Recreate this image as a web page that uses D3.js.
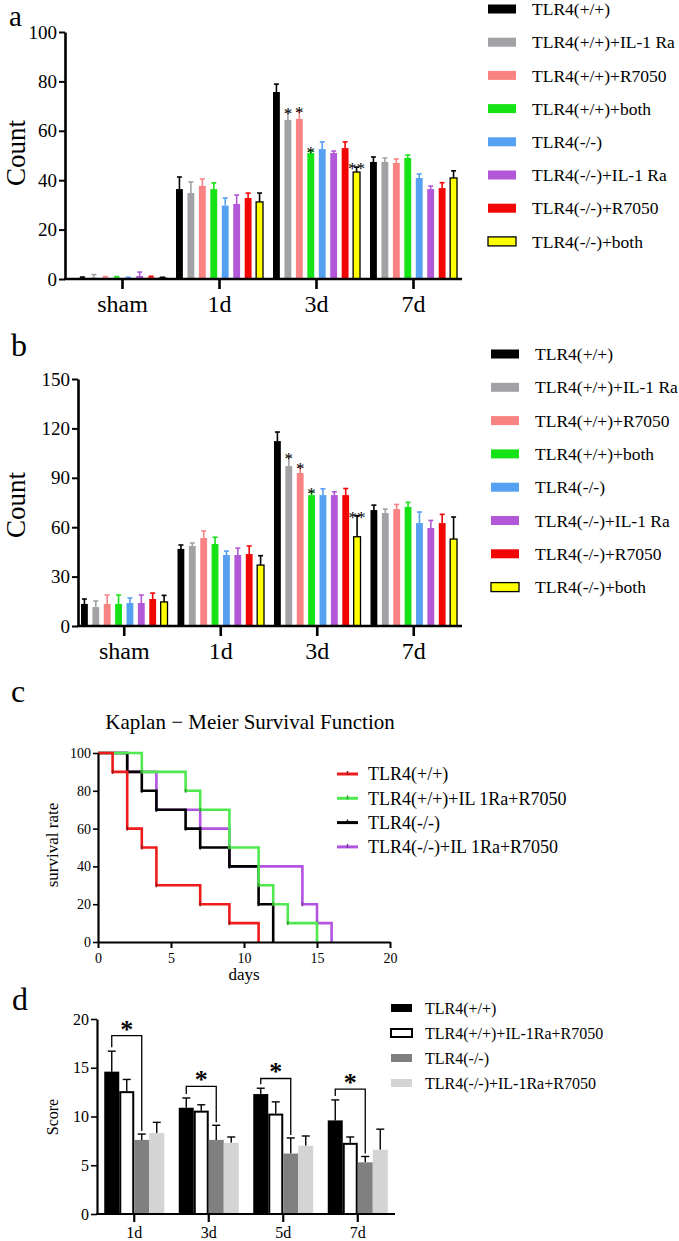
<!DOCTYPE html>
<html><head><meta charset="utf-8">
<script src="https://cdn.jsdelivr.net/npm/d3@7"></script>
<style>
body{margin:0;background:#fff}
svg{display:block}
svg text{font-family:"Liberation Serif","Tinos","Times New Roman","DejaVu Serif",serif !important;fill:#000}
</style>
</head><body>
<svg id="chart" width="679" height="1241"></svg>
<script>
// ---------- data ----------
const seriesAB = ["TLR4(+/+)","TLR4(+/+)+IL-1 Ra","TLR4(+/+)+R7050","TLR4(+/+)+both","TLR4(-/-)","TLR4(-/-)+IL-1 Ra","TLR4(-/-)+R7050","TLR4(-/-)+both"];
const colorsAB = ["#000000","#a2a2a6","#f98282","#16e316","#56a0f2","#b157d8","#f20505","#ffff00"];
const categoriesAB = ["sham","1d","3d","7d"];

// panel a: rows = categories, columns = series
const aMeans = [
  [0.5,0.6,0.6,0.6,0.4,1.2,0.7,0.4],
  [36.4,34.8,37.7,36.4,29.7,30.4,32.8,31.2],
  [75.7,64.4,64.8,51.0,52.6,51.0,53.0,43.3],
  [47.4,47.4,47.0,49.0,40.9,36.4,36.8,40.9]
];
const aErrs = [
  [0.3,1.2,0.4,0.4,0.3,1.6,0.4,0.3],
  [4.9,4.5,2.8,2.5,3.1,3.6,2.0,3.6],
  [3.2,3.1,3.2,0.8,2.9,0.8,2.5,2.0],
  [2.0,1.6,1.6,1.2,1.6,1.2,2.2,2.9]
];
const aStars = [
  ["","","","","","","",""],
  ["","","","","","","",""],
  ["","*","*","*","","","","**"],
  ["","","","","","","",""]
];
const aTicks = [0,20,40,60,80,100];

// panel b
const bMeans = [
  [13.4,11.5,13.4,13.4,14.0,14.0,16.4,14.6],
  [46.8,48.6,53.4,49.8,43.1,43.1,43.7,37.0],
  [112.3,97.1,92.9,79.5,79.5,79.5,79.5,54.2],
  [70.4,68.6,71.0,72.3,62.5,59.5,62.5,52.8]
];
const bErrs = [
  [3.0,3.7,5.4,5.4,3.0,4.8,3.6,4.0],
  [2.4,1.8,4.3,4.1,2.4,4.2,4.9,5.7],
  [5.5,5.5,3.6,1.8,3.8,2.0,4.0,12.8],
  [3.0,2.4,2.8,2.8,6.7,4.6,5.3,13.4]
];
const bStars = [
  ["","","","","","","",""],
  ["","","","","","","",""],
  ["","*","*","*","","","","**"],
  ["","","","","","","",""]
];
const bTicks = [0,30,60,90,120,150];

// panel c: Kaplan-Meier
const kmSeries = ["TLR4(+/+)","TLR4(+/+)+IL 1Ra+R7050","TLR4(-/-)","TLR4(-/-)+IL 1Ra+R7050"];
const kmColors = ["#ee1c1c","#4fe84f","#000000","#b253e2"];
const kmRedTimes = [0,1,2,3,4,7,9,11];
const kmRedRates = [100,90,60,50,30,20,10,0];
const kmGreenTimes = [0,3,6,7,9,11,12,13,15];
const kmGreenRates = [100,90,80,70,50,30,20,10,0];
const kmBlackTimes = [0,2,3,4,6,7,9,11,12];
const kmBlackRates = [100,90,80,70,60,50,40,20,0];
const kmPurpleTimes = [0,2,4,7,9,14,15,16];
const kmPurpleRates = [100,90,70,60,40,20,10,0];
const kmXTicks = [0,5,10,15,20];
const kmYTicks = [0,20,40,60,80,100];

// panel d
const seriesD = ["TLR4(+/+)","TLR4(+/+)+IL-1Ra+R7050","TLR4(-/-)","TLR4(-/-)+IL-1Ra+R7050"];
const colorsD = ["#000000","#ffffff","#808080","#d4d4d4"];
const categoriesD = ["1d","3d","5d","7d"];
const dMeans = [
  [14.6,12.6,7.6,8.3],
  [10.9,10.6,7.6,7.3],
  [12.3,10.3,6.2,7.0],
  [9.6,7.3,5.3,6.6]
];
const dErrs = [
  [2.1,1.2,0.6,1.1],
  [1.0,0.6,1.5,0.6],
  [0.6,1.2,1.6,1.0],
  [2.1,0.6,0.6,2.1]
];
const dBracket = [18.3,13.1,13.9,12.8];
const dTicks = [0,5,10,15,20];

// ---------- drawing ----------
const svg = d3.select("#chart");

function letter(t, x, y, size){
  svg.append("text").attr("x",x).attr("y",y).attr("font-size",size||32).text(t);
}

function barPanel(cfg){
  const g = svg.append("g");
  const x0 = d3.scaleBand().domain(categoriesAB).range(cfg.xRange);
  const x1 = d3.scaleBand().domain(seriesAB).range([5, x0.bandwidth()-5]).paddingInner(0.4);
  const y = d3.scaleLinear().domain([0, d3.max(cfg.ticks)]).range(cfg.yRange);
  const base = y(0);
  const rows = [];
  categoriesAB.forEach((c,ci)=>seriesAB.forEach((s,si)=>rows.push({
    c, s, si, v: cfg.means[ci][si], e: cfg.errs[ci][si], star: cfg.stars[ci][si]
  })));
  const bw = x1.bandwidth();
  const eb = g.append("g").selectAll("g").data(rows).join("g");
  eb.append("line")
    .attr("x1", d=>x0(d.c)+x1(d.s)+bw/2).attr("x2", d=>x0(d.c)+x1(d.s)+bw/2)
    .attr("y1", d=>y(d.v)).attr("y2", d=>y(d.v+d.e))
    .attr("stroke", d=>d.si===7?"#000":colorsAB[d.si]).attr("stroke-width",1.6);
  eb.append("line")
    .attr("x1", d=>x0(d.c)+x1(d.s)+bw/2-2.5).attr("x2", d=>x0(d.c)+x1(d.s)+bw/2+2.5)
    .attr("y1", d=>y(d.v+d.e)).attr("y2", d=>y(d.v+d.e))
    .attr("stroke", d=>d.si===7?"#000":colorsAB[d.si]).attr("stroke-width",1.6);
  g.append("g").selectAll("rect").data(rows).join("rect")
    .attr("x", d=>x0(d.c)+x1(d.s)).attr("width", bw)
    .attr("y", d=>y(d.v)).attr("height", d=>base-y(d.v))
    .attr("fill", d=>colorsAB[d.si])
    .attr("stroke", d=>d.si===7?"#000":"none").attr("stroke-width",1.3);
  g.append("g").selectAll("text").data(rows.filter(d=>d.star)).join("text")
    .attr("x", d=>x0(d.c)+x1(d.s)+bw/2).attr("y", d=>y(d.v+d.e)+7)
    .attr("text-anchor","middle").attr("font-size",17).text(d=>d.star);
  const ya = g.append("g").attr("transform",`translate(${cfg.axisX},0)`)
    .call(d3.axisLeft(y).tickValues(cfg.ticks).tickSize(6).tickSizeOuter(0).tickPadding(2));
  ya.select(".domain").attr("stroke-width",2.6);
  ya.selectAll(".tick line").attr("stroke-width",2);
  ya.selectAll("text").attr("font-size",19);
  const xa = g.append("g").attr("transform",`translate(0,${base})`)
    .call(d3.axisBottom(x0).tickSize(10).tickSizeOuter(0));
  xa.select(".domain").remove();
  xa.append("line").attr("x1",cfg.axisX-1).attr("x2",cfg.xRange[1]).attr("stroke","#000").attr("stroke-width",2.6);
  xa.selectAll(".tick line").attr("stroke-width",2.6);
  xa.selectAll("text").attr("font-size",24).attr("y",33).attr("dy",null);
  g.append("text").attr("transform",`translate(${cfg.labelX},${cfg.labelY}) rotate(-90)`)
    .attr("text-anchor","middle").attr("font-size",27).text("Count");
  const lg = g.append("g").selectAll("g").data(seriesAB).join("g")
    .attr("transform",(d,i)=>`translate(${cfg.legendX},${cfg.legendY0+i*cfg.legendStep})`);
  lg.append("rect").attr("x",0).attr("y",-4.5).attr("width",28).attr("height",9)
    .attr("fill",(d,i)=>colorsAB[i]).attr("stroke",(d,i)=>i===7?"#000":"none").attr("stroke-width",1.3);
  lg.append("text").attr("x",44).attr("y",0).attr("dy","0.35em").attr("font-size",17.5).text(d=>d);
}

letter("a", 9, 26, 29);
barPanel({means:aMeans, errs:aErrs, stars:aStars, ticks:aTicks,
  xRange:[74,462], yRange:[279,32], axisX:65, labelX:25, labelY:153,
  legendX:488, legendY0:9, legendStep:33.2});

letter("b", 11, 356);
barPanel({means:bMeans, errs:bErrs, stars:bStars, ticks:bTicks,
  xRange:[76,462], yRange:[626,379], axisX:78, labelX:25, labelY:505,
  legendX:491, legendY0:354, legendStep:33.3});

letter("c", 11, 702);
(function(){
  const g = svg.append("g");
  const x = d3.scaleLinear().domain([0,20]).range([98,390]);
  const y = d3.scaleLinear().domain([0,100]).range([942,753]);
  g.append("text").attr("x",250).attr("y",729).attr("text-anchor","middle").attr("font-size",21)
    .text("Kaplan \u2212 Meier Survival Function");
  const curves = [
    {t:kmPurpleTimes, r:kmPurpleRates, c:kmColors[3]},
    {t:kmBlackTimes, r:kmBlackRates, c:kmColors[2]},
    {t:kmGreenTimes, r:kmGreenRates, c:kmColors[1]},
    {t:kmRedTimes, r:kmRedRates, c:kmColors[0]}
  ];
  const line = d3.line().x(d=>x(d[0])).y(d=>y(d[1])).curve(d3.curveStepAfter);
  curves.forEach(cv=>{
    const pts = cv.t.map((t,i)=>[t,cv.r[i]]);
    g.append("path").attr("d",line(pts)).attr("fill","none").attr("stroke",cv.c).attr("stroke-width",2.6);
    g.append("g").selectAll("line").data(pts.slice(1,-1)).join("line")
      .attr("x1",d=>x(d[0])).attr("x2",d=>x(d[0])).attr("y1",d=>y(d[1])-2).attr("y2",d=>y(d[1])+2)
      .attr("stroke",d3.color(cv.c).darker(1.2)).attr("stroke-width",1.5);
  });
  const ya = g.append("g").attr("transform","translate(98,0)")
    .call(d3.axisLeft(y).tickValues(kmYTicks).tickSize(5).tickSizeOuter(0).tickPadding(2));
  ya.select(".domain").attr("stroke-width",2.2);
  ya.selectAll(".tick line").attr("stroke-width",1.6);
  ya.selectAll("text").attr("font-size",14);
  const xa = g.append("g").attr("transform","translate(0,942)")
    .call(d3.axisBottom(x).tickValues(kmXTicks).tickSize(6).tickSizeOuter(0));
  xa.select(".domain").attr("stroke-width",2.2);
  xa.selectAll(".tick line").attr("stroke-width",2);
  xa.selectAll("text").attr("font-size",14).attr("y",21).attr("dy",null);
  g.append("text").attr("x",244).attr("y",980).attr("text-anchor","middle").attr("font-size",17).text("days");
  g.append("text").attr("transform","translate(58,845) rotate(-90)").attr("text-anchor","middle")
    .attr("font-size",17).text("survival rate");
  const order = [0,1,2,3];
  const lg = g.append("g").selectAll("g").data(order).join("g")
    .attr("transform",(d,i)=>`translate(337,${774+i*24.3})`);
  lg.append("line").attr("x1",0).attr("x2",21).attr("stroke",d=>kmColors[d]).attr("stroke-width",3);
  lg.append("line").attr("x1",10.5).attr("x2",10.5).attr("y1",-3).attr("y2",1)
    .attr("stroke",d=>d3.color(kmColors[d]).darker(1.2)).attr("stroke-width",1.4);
  lg.append("text").attr("x",31).attr("dy","0.35em").attr("font-size",18).text(d=>kmSeries[d]);
})();

letter("d", 12, 1010);
(function(){
  const g = svg.append("g");
  const x0 = d3.scaleBand().domain(categoriesD).range([97,395]);
  const pad = (x0.bandwidth()-60)/2;
  const x1 = d3.scaleBand().domain(seriesD).range([pad, pad+60]);
  const y = d3.scaleLinear().domain([0,20]).range([1214,1019]);
  const bw = x1.bandwidth();
  const rows = [];
  categoriesD.forEach((c,ci)=>seriesD.forEach((s,si)=>rows.push({c,s,si,v:dMeans[ci][si],e:dErrs[ci][si]})));
  const cx = d=>x0(d.c)+x1(d.s)+bw/2;
  const eb = g.append("g").selectAll("g").data(rows).join("g");
  eb.append("line").attr("x1",cx).attr("x2",cx).attr("y1",d=>y(d.v)).attr("y2",d=>y(d.v+d.e))
    .attr("stroke","#000").attr("stroke-width",1.4);
  eb.append("line").attr("x1",d=>cx(d)-4).attr("x2",d=>cx(d)+4).attr("y1",d=>y(d.v+d.e)).attr("y2",d=>y(d.v+d.e))
    .attr("stroke","#000").attr("stroke-width",1.4);
  g.append("g").selectAll("rect").data(rows).join("rect")
    .attr("x",d=>x0(d.c)+x1(d.s)+(d.si===1?1:0)).attr("width",d=>d.si===1?bw-2:bw)
    .attr("y",d=>y(d.v)+(d.si===1?1:0)).attr("height",d=>y(0)-y(d.v)-(d.si===1?1:0))
    .attr("fill",d=>colorsD[d.si]).attr("stroke",d=>d.si===1?"#000":"none").attr("stroke-width",2);
  categoriesD.forEach((c,ci)=>{
    const xl = x0(c)+x1(seriesD[0])+bw/2, xr = x0(c)+x1(seriesD[2])+bw/2;
    const yt = y(dBracket[ci]);
    const yl = y(dMeans[ci][0]+dErrs[ci][0])-4, yr = y(dMeans[ci][2]+dErrs[ci][2])-3;
    g.append("path").attr("d",`M${xl},${yl}V${yt}H${xr}V${yr}`).attr("fill","none")
      .attr("stroke","#000").attr("stroke-width",1.3);
    g.append("text").attr("x",(xl+xr)/2).attr("y",yt+2).attr("text-anchor","middle")
      .attr("font-size",26).attr("font-weight","bold").text("*");
  });
  const ya = g.append("g").attr("transform","translate(97,0)")
    .call(d3.axisLeft(y).tickValues(dTicks).tickSize(6).tickSizeOuter(0).tickPadding(2));
  ya.select(".domain").attr("stroke-width",2.2);
  ya.selectAll(".tick line").attr("stroke-width",1.6);
  ya.selectAll("text").attr("font-size",16);
  const xa = g.append("g").attr("transform","translate(0,1214)")
    .call(d3.axisBottom(x0).tickSize(8).tickSizeOuter(0));
  xa.select(".domain").remove();
  xa.append("line").attr("x1",96).attr("x2",395).attr("stroke","#000").attr("stroke-width",2.2);
  xa.selectAll(".tick line").attr("stroke-width",2.2);
  xa.selectAll("text").attr("font-size",16).attr("y",24).attr("dy",null);
  g.append("text").attr("transform","translate(58,1117) rotate(-90)").attr("text-anchor","middle")
    .attr("font-size",16).text("Score");
  const lg = g.append("g").selectAll("g").data(seriesD).join("g")
    .attr("transform",(d,i)=>`translate(391,${1008+i*25})`);
  lg.append("rect").attr("x",0).attr("y",-4).attr("width",21).attr("height",8)
    .attr("fill",(d,i)=>colorsD[i]).attr("stroke",(d,i)=>i===1?"#000":"none").attr("stroke-width",2);
  lg.append("text").attr("x",34).attr("dy","0.35em").attr("font-size",16).text(d=>d);
})();
</script>
</body></html>
